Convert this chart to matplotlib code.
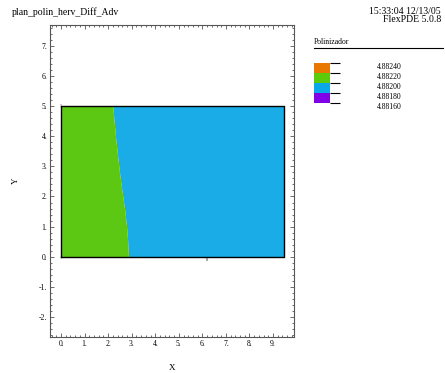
import matplotlib
matplotlib.use("Agg")
import matplotlib.pyplot as plt
from matplotlib.ticker import MultipleLocator

plt.rcParams['font.family'] = ['Liberation Serif', 'DejaVu Serif']

# ---- data ----
title = "plan_polin_herv_Diff_Adv"
stamp = "15:33:04 12/13/05"
version = "FlexPDE 5.0.8"
legend_title = "Polinizador"
levels = [4.88240, 4.88220, 4.88200, 4.88180, 4.88160]
level_colors = ["#e87800", "#5ccc0a", "#0aa8e8", "#8000e8"]
field_colors = ["#5cc814", "#1aacE6"]
domain_x = [0.0, 9.45]
domain_y = [0.0, 5.0]
# green/blue contour boundary (x as function of y)
bound_y = [0.0, 0.5, 1.0, 1.5, 2.0, 2.5, 3.0, 3.5, 4.0, 4.5, 5.0]
bound_x = [2.86, 2.83, 2.78, 2.71, 2.62, 2.53, 2.45, 2.38, 2.31, 2.25, 2.20]
xticks = [0, 1, 2, 3, 4, 5, 6, 7, 8, 9]
yticks = [-2, -1, 0, 1, 2, 3, 4, 5, 6, 7]

W, H = 445, 373
fig = plt.figure(figsize=(W/100, H/100), dpi=100)

def px(l, t, r, b):
    return [l/W, 1-b/H, (r-l)/W, (b-t)/H]

ax = fig.add_axes(px(50, 25, 294, 337))
ax.set_xlim(-0.47, 9.89)
ax.set_ylim(-2.67, 7.70)

x_right = [domain_x[1]]*len(bound_y)
ax.fill_betweenx(bound_y, [domain_x[0]]*len(bound_y), bound_x, color=field_colors[0], lw=0)
ax.fill_betweenx(bound_y, bound_x, x_right, color=field_colors[1], lw=0)
ax.plot([domain_x[0], domain_x[1], domain_x[1], domain_x[0], domain_x[0]],
        [domain_y[0], domain_y[0], domain_y[1], domain_y[1], domain_y[0]],
        color='black', lw=1.0)
ax.text(domain_x[0], domain_y[1], "1", fontsize=3, ha='center', va='center')
ax.text(6.2, -0.1, "0", fontsize=3, ha='center', va='center')

ax.set_xticks(xticks)
ax.set_xticklabels([f"{v}." for v in xticks], fontsize=5.5)
ax.set_yticks(yticks)
ax.set_yticklabels([f"{v}." for v in yticks], fontsize=5.5)
ax.xaxis.set_minor_locator(MultipleLocator(0.2))
ax.yaxis.set_minor_locator(MultipleLocator(0.2))
ax.tick_params(which='both', direction='in', top=True, right=True, pad=2, width=0.6, color='#555555')
ax.tick_params(which='major', length=3)
ax.tick_params(which='minor', length=1.2)
for s in ax.spines.values():
    s.set_linewidth(0.8)
    s.set_color('#555555')
ax.set_xlabel("X", fontsize=6.5, labelpad=12)
ax.set_ylabel("Y", fontsize=6.5, labelpad=14)

fig.text(12/W, 1-12/H, title, fontsize=7, ha='left', va='center')
fig.text(441/W, 1-12/H, stamp, fontsize=7, ha='right', va='center')
fig.text(441/W, 1-20/H, version, fontsize=7, ha='right', va='center')
fig.text(314/W, 1-42/H, legend_title, fontsize=5.5, ha='left', va='center')
fig.add_artist(plt.Line2D([314/W, 443/W], [1-48/H, 1-48/H], color='black', lw=0.8))

lax = fig.add_axes(px(314, 63, 340, 103))
lax.set_xlim(0, 1)
lax.set_ylim(levels[-1], levels[0])
lax.axis('off')
for i, c in enumerate(level_colors):
    lax.fill_between([0, 0.615], levels[i+1], levels[i], color=c, lw=0)
for v in levels:
    lax.hlines(v, 0.615, 1.0, color='black', lw=0.8, clip_on=False)
    lax.text(2.4, v, f"{v:.5f}", fontsize=5.5, ha='left', va='top', transform=lax.transData, clip_on=False)

fig.savefig("out.png", dpi=100)
